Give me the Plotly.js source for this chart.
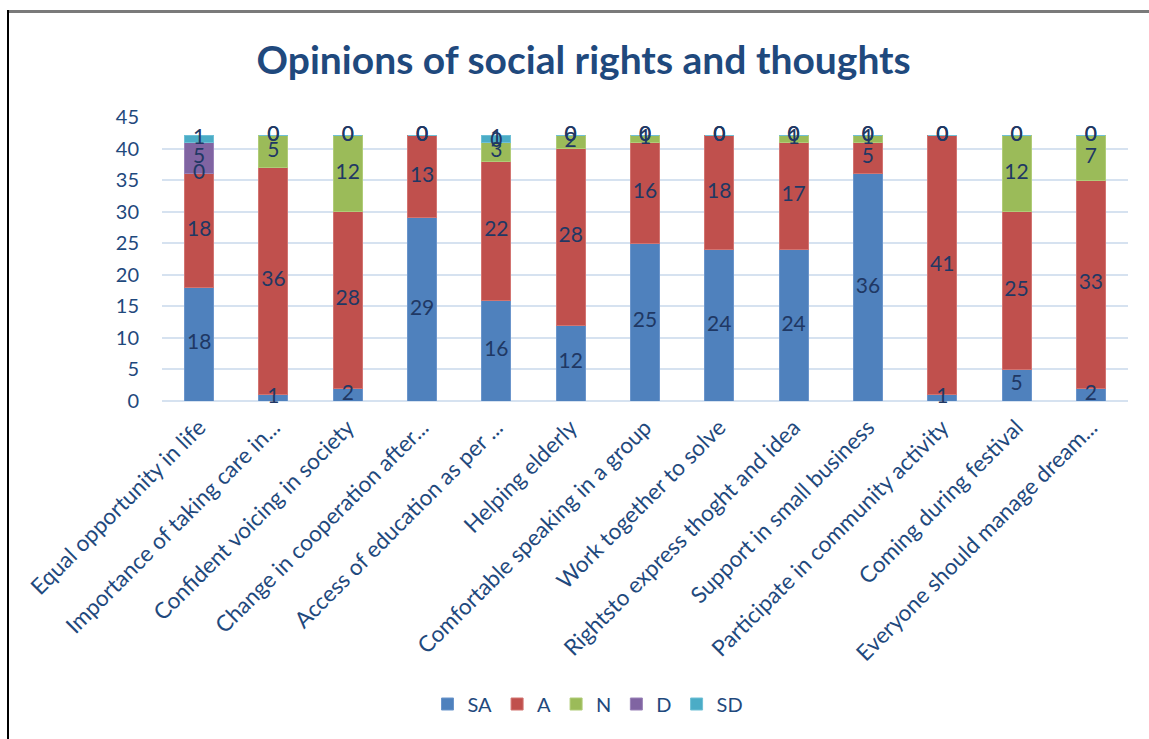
<!DOCTYPE html>
<html>
<head>
<meta charset="utf-8">
<script src="https://cdn.plot.ly/plotly-3.0.1.min.js"></script>
<style>
  html, body { margin: 0; padding: 0; background: #fff; }
  #chart { width: 1149px; height: 739px; }
  .frame-top { position: absolute; left: 8px; top: 10px; width: 1141px; height: 3px; background: #7a7a7a; }
  .frame-left { position: absolute; left: 7px; top: 10px; width: 2px; height: 729px; background: #000; }
</style>
</head>
<body>
<div id="chart"></div>
<div class="frame-top"></div>
<div class="frame-left"></div>
<script>
const categories = [
  "Equal opportunity in life",
  "Importance of taking care in...",
  "Confident voicing in society",
  "Change in cooperation after...",
  "Access of education as per ...",
  "Helping elderly",
  "Comfortable speaking in a group",
  "Work together to solve",
  "Rightsto express thoght and idea",
  "Support in small business",
  "Participate in community activity",
  "Coming during festival",
  "Everyone should manage dream..."
];
const seriesNames = ["SA", "A", "N", "D", "SD"];
const SA = [18, 1, 2, 29, 16, 12, 25, 24, 24, 36, 1, 5, 2];
const A  = [18, 36, 28, 13, 22, 28, 16, 18, 17, 5, 41, 25, 33];
const N  = [0, 5, 12, 0, 3, 2, 1, 0, 1, 1, 0, 12, 7];
const D  = [5, 0, 0, 0, 0, 0, 0, 0, 0, 0, 0, 0, 0];
const SD = [1, 0, 0, 0, 1, 0, 0, 0, 0, 0, 0, 0, 0];
const yTicks = [0, 5, 10, 15, 20, 25, 30, 35, 40, 45];

const seriesValues = [SA, A, N, D, SD];
const colors = ["#4F81BD", "#C0504D", "#9BBB59", "#8064A2", "#4BACC6"];
const lineColors = ["#6b95cb", "#d27471", "#b0cc78", "#9a82b8", "#6fc0d6"];
const textColor = "#1F3864";
const FONT = "Lato, 'Open Sans', sans-serif";

const traces = [];
seriesValues.forEach((vals, i) => {
  traces.push({
    type: "bar",
    name: seriesNames[i],
    x: categories,
    y: vals,
    marker: { color: colors[i], line: { color: lineColors[i], width: 1 } },
    hoverinfo: "x+y+name"
  });
});

// data labels at segment centres (including zero-height segments, as in the source)
const base = categories.map(() => 0);
seriesValues.forEach((vals, i) => {
  const ys = vals.map((v, k) => base[k] + v / 2);
  vals.forEach((v, k) => { base[k] += v; });
  traces.push({
    type: "scatter",
    mode: "text",
    x: categories,
    y: ys,
    text: vals.map(String),
    textposition: "middle center",
    textfont: { family: FONT, size: 21, color: textColor },
    showlegend: false,
    hoverinfo: "skip",
    cliponaxis: false
  });
});

const layout = {
  width: 1149,
  height: 739,
  paper_bgcolor: "#ffffff",
  plot_bgcolor: "#ffffff",
  barmode: "stack",
  bargap: 0.61,
  margin: { l: 162, r: 21, t: 117, b: 338 },
  title: {
    text: "<b>Opinions of social rights and thoughts</b>",
    font: { family: FONT, size: 39, color: "#1F497D" },
    x: 0.508, xanchor: "center",
    y: 1 - 60 / 739, yref: "container", yanchor: "middle"
  },
  xaxis: {
    type: "category",
    range: [-0.5, categories.length - 0.5],
    tickangle: -45,
    tickfont: { family: FONT, size: 22.5, color: "#1F497D" },
    ticklabelstandoff: 8,
    showgrid: false,
    showline: false,
    ticks: "",
    automargin: false
  },
  yaxis: {
    range: [0, 45],
    tickvals: yTicks,
    ticktext: yTicks.map(String),
    tickfont: { family: FONT, size: 20, color: "#1F497D" },
    showgrid: true,
    gridcolor: "#d6e2f0",
    gridwidth: 2,
    zeroline: true,
    zerolinecolor: "#d6e2f0",
    zerolinewidth: 2,
    showline: false,
    ticks: "",
    ticklabelstandoff: 22,
    automargin: false
  },
  legend: {
    orientation: "h",
    xref: "container",
    x: 588 / 1149, xanchor: "center",
    y: 1 - 704 / 739, yref: "container", yanchor: "middle",
    font: { family: FONT, size: 20, color: "#1F497D" },
    traceorder: "normal",
    itemwidth: 30
  },
  showlegend: true
};

Plotly.newPlot("chart", traces, layout, { displayModeBar: false, staticPlot: true });
</script>
</body>
</html>
